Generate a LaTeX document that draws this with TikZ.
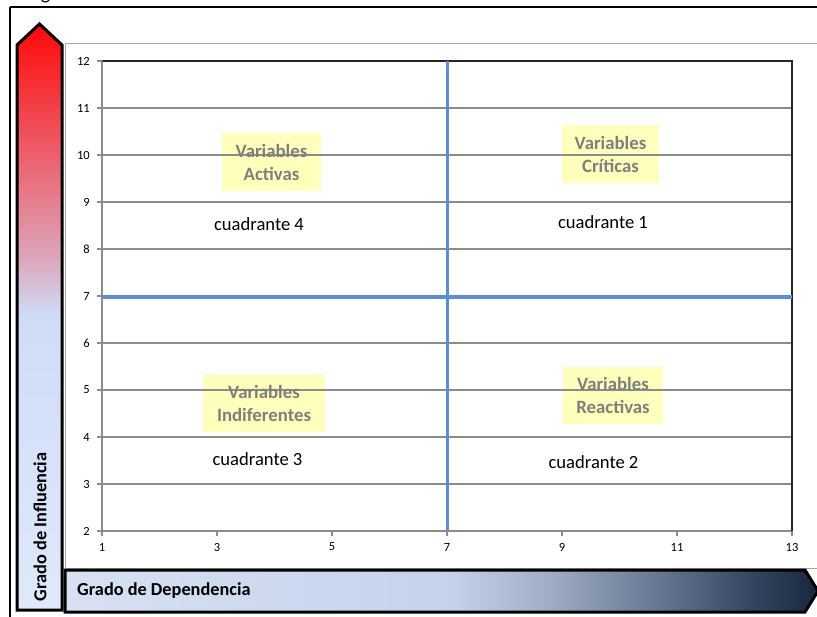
\documentclass[tikz,border=0pt]{standalone}
\usepackage{fontspec}
\setmainfont{Carlito}
\definecolor{gridgray}{HTML}{8C8C8C}
\definecolor{axisblue}{HTML}{5B8ED8}
\definecolor{boxyellow}{HTML}{FFFF99}
\definecolor{labelgray}{HTML}{7F7F7F}
\definecolor{areagray}{HTML}{A6A6A6}
\definecolor{infbot}{HTML}{DFE9FB}
\definecolor{infblue}{HTML}{CFDCF7}
\definecolor{infpink}{HTML}{DDA3B8}
\definecolor{infred}{HTML}{FF0808}
\definecolor{depa}{HTML}{D8E1F3}
\definecolor{depb}{HTML}{C4D2EC}
\definecolor{depc}{HTML}{9EACC4}
\definecolor{depd}{HTML}{6B7B95}
\definecolor{depe}{HTML}{34465F}
\definecolor{depf}{HTML}{17273F}
\pgfdeclareverticalshading{infshade}{100bp}{color(0bp)=(infbot); color(25bp)=(infbot); color(50.2bp)=(infblue); color(55.3bp)=(infpink); color(75bp)=(infred); color(100bp)=(infred)}
\pgfdeclarehorizontalshading{depshade}{100bp}{color(0bp)=(depa); color(25bp)=(depa); color(50.6bp)=(depb); color(57.25bp)=(depc); color(63.9bp)=(depd); color(70.55bp)=(depe); color(75bp)=(depf); color(100bp)=(depf)}
\begin{document}
\begin{tikzpicture}[x=1pt,y=-1pt,
  ticklabel/.style={inner sep=0pt,font=\fontsize{12.5}{14}\selectfont},
  quadlabel/.style={inner sep=0pt,font=\fontsize{18.6}{22}\selectfont},
  varbox/.style={fill=boxyellow,fill opacity=0.65,draw=none},
  vartext/.style={inner sep=0pt,align=center,text=labelgray,font=\bfseries\fontsize{18.8}{23}\selectfont},
  gridline/.style={draw=gridgray,line width=1.2pt},
  bluerule/.style={draw=axisblue,line width=3.6pt},
  arrowbody/.style={draw=black,line width=3pt,line join=miter},
  axistitle/.style={inner sep=0pt,font=\bfseries\fontsize{18.3}{22}\selectfont}]
\useasboundingbox (0,0) rectangle (817,617);
\clip (0,0) rectangle (817,617);
% cropped caption letter
\node[anchor=base,inner sep=0pt,font=\fontsize{20}{24}\selectfont] (capg) at (45.5,-0.5) {g};
% outer frame
\draw[line width=2pt] (10,7) -- (830,7);
\draw[line width=2pt] (10,7) -- (10,630);
% chart area
\draw[draw=areagray,line width=0.9pt,fill=white] (65,43) rectangle (830,568);
% yellow boxes
\path[varbox] (222,133) rectangle (321,191);
\path[varbox] (562,125) rectangle (659,183);
\path[varbox] (203,375) rectangle (325,432);
\path[varbox] (563,367) rectangle (663,424);
% grid lines and y ticks
\foreach \v in {2,...,11} {
  \draw[gridline] (102,{61+47*(12-\v)}) -- (792,{61+47*(12-\v)});
}
\foreach \v in {2,...,12} {
  \draw[gridline] (97,{61+47*(12-\v)}) -- (102,{61+47*(12-\v)});
  \node[ticklabel,anchor=east] (y\v) at (90,{61+47*(12-\v)}) {\v};
}
% plot border
\draw[line width=1.4pt,draw=black!85] (102,61) -- (792,61) -- (792,531);
\draw[gridline] (102,61) -- (102,531);
% x ticks
\foreach \u in {1,3,...,13} {
  \draw[gridline] ({102+57.5*(\u-1)},531) -- ({102+57.5*(\u-1)},536);
  \node[ticklabel] (x\u) at ({102+57.5*(\u-1)},547) {\u};
}
% blue quadrant rules
\draw[bluerule] (102,297) -- (792,297);
\draw[bluerule] (447.5,61) -- (447.5,531);
% box texts
\node[vartext] (activas) at (271.5,162) {Variables\\Activas};
\node[vartext] (criticas) at (610.5,154) {Variables\\Críticas};
\node[vartext] (indif) at (264,403.5) {Variables\\Indiferentes};
\node[vartext] (reactivas) at (613,395.5) {Variables\\Reactivas};
% quadrant labels
\node[quadlabel] (q4) at (259,224) {cuadrante 4};
\node[quadlabel] (q1) at (603,222) {cuadrante 1};
\node[quadlabel] (q3) at (257.5,459) {cuadrante 3};
\node[quadlabel] (q2) at (593.5,462) {cuadrante 2};
% vertical arrow
\shadedraw[shading=infshade,arrowbody] (17,45) -- (39.5,24) -- (62,45) -- (62,610) -- (17,610) -- cycle;
\node[axistitle,rotate=90] (infl) at (40,527) {Grado de Influencia};
% horizontal arrow
\shadedraw[shading=depshade,arrowbody] (65,570) -- (805,570) -- (818,591) -- (805,612) -- (65,612) -- cycle;
\node[axistitle,anchor=west] (dep) at (77,591) {Grado de Dependencia};
\end{tikzpicture}
\end{document}
